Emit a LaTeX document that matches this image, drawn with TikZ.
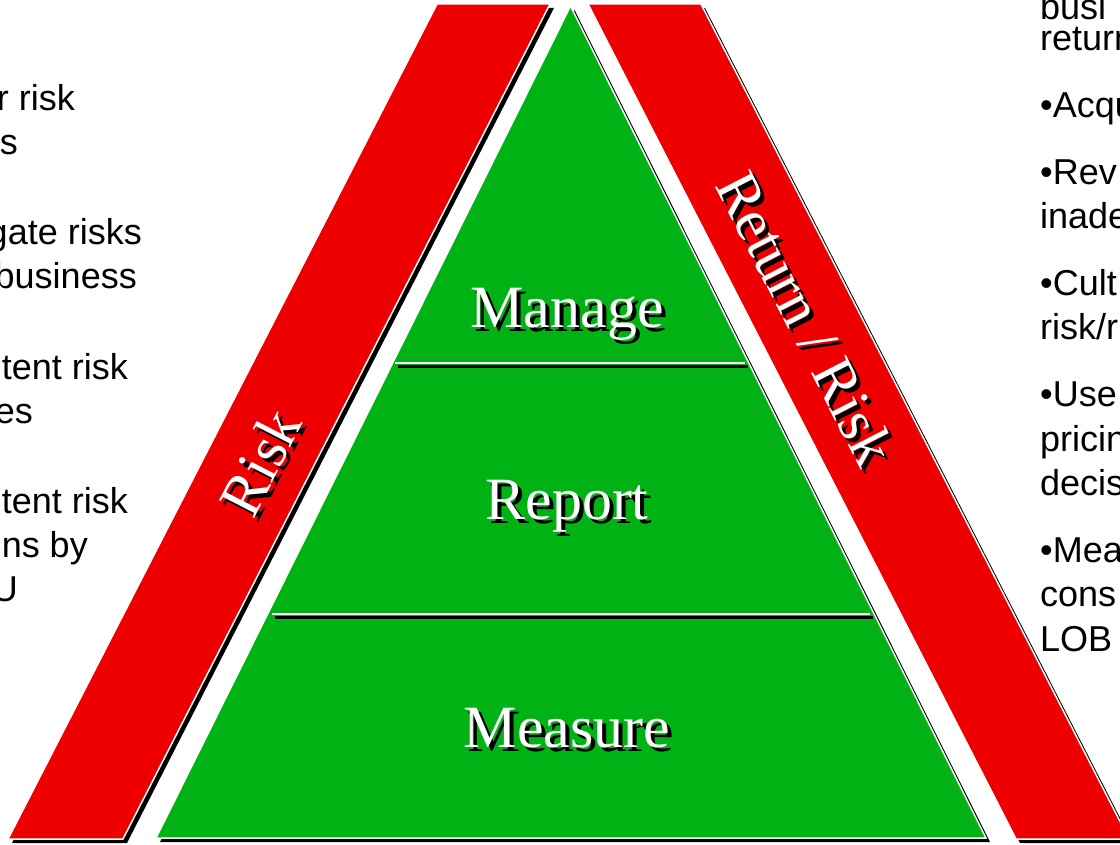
\documentclass[tikz,border=0pt]{standalone}
\usepackage{fontspec}
\setmainfont{Liberation Serif}
\newfontfamily\listfont{Liberation Sans}
\usetikzlibrary{positioning,shadows}
\definecolor{bandred}{RGB}{238,0,0}
\definecolor{tiergreen}{RGB}{0,178,20}
\tikzset {
    band/.style={
        fill=bandred,
        draw=white,
        line width=1.5pt,
        drop shadow={shadow xshift=4pt, shadow yshift=-4pt, fill=black, opacity=1},
    },
    pyramid/.style={
        fill=tiergreen,
        draw=white,
        line width=1.5pt,
        drop shadow={shadow xshift=4pt, shadow yshift=-4pt, fill=black, opacity=1},
    },
    divider/.style={
        draw=white,
        line width=2.5pt,
    },
    divider shadow/.style={
        draw=black,
        line width=3pt,
    },
    tier label/.style={
        text=white,
        inner sep=0pt,
        font=\fontsize{60}{72}\selectfont,
    },
    tier shadow/.style={
        tier label,
        text=black,
    },
    list left/.style={
        inner sep=0pt,
        anchor=base east,
        font=\listfont\fontsize{36}{44}\selectfont,
    },
    list right/.style={
        inner sep=0pt,
        anchor=base west,
        font=\listfont\fontsize{36}{44}\selectfont,
    },
}

\begin{document}
\begin{tikzpicture}[x=1pt, y=-1pt]
\useasboundingbox (0,0) rectangle (1120,845);

% the two slanted bands
\fill[band] (437,4) -- (550,4) -- (123,839) -- (8,839) -- cycle;
\fill[band] (588,4) -- (701,4) -- (1129,839) -- (1016,839) -- cycle;

% pyramid and its tiers
\fill[pyramid] (570.5,6) -- (986,838) -- (156,838) -- cycle;
\coordinate (tierA west) at (395,363);
\coordinate (tierA east) at (745,363);
\coordinate (tierB west) at (272,614);
\coordinate (tierB east) at (870,614);
\draw[divider shadow] ([xshift=3pt,yshift=-3pt]tierA west) -- ([xshift=3pt,yshift=-3pt]tierA east);
\draw[divider] (tierA west) -- (tierA east);
\draw[divider shadow] ([xshift=3pt,yshift=-3pt]tierB west) -- ([xshift=3pt,yshift=-3pt]tierB east);
\draw[divider] (tierB west) -- (tierB east);

\node[tier shadow, anchor=base] at (571,331) (manage shadow) {Manage};
\node[tier label, anchor=base] at (567,327) (manage) {Manage};
\node[tier shadow, anchor=base] at (571,523) (report shadow) {Report};
\node[tier label, anchor=base] at (567,519) (report) {Report};
\node[tier shadow, anchor=base] at (571,751) (measure shadow) {Measure};
\node[tier label, anchor=base] at (567,747) (measure) {Measure};

% band titles
\node[tier shadow, rotate=62.8] at (264,466) (risk shadow) {Risk};
\node[tier label, rotate=62.8] at (260,462) (risk) {Risk};
\node[tier shadow, rotate=-62.8] at (810,322) (return shadow) {Return / Risk};
\node[tier label, rotate=-62.8] at (806,318) (return) {Return / Risk};

% left list
\node[list left] at (75,111) (l1) {r risk};
\node[list left] at (18,155) (l2) {s};
\node[list left] at (142,245) (l3) {gate risks};
\node[list left] at (137,289) (l4) {business};
\node[list left] at (128,379) (l5) {tent risk};
\node[list left] at (33,423) (l6) {es};
\node[list left] at (128,513) (l7) {tent risk};
\node[list left] at (88,557) (l8) {ns by};
\node[list left] at (18,601) (l9) {U};

% right list
\node[list right] at (1040,20) (r1) {busi};
\node[list right] at (1040,51) (r2) {return};
\node[list right] at (1040,118) (r3) {\textbullet Acqu};
\node[list right] at (1040,184.5) (r4) {\textbullet Rev};
\node[list right] at (1040,229) (r5) {inade};
\node[list right] at (1040,295.5) (r6) {\textbullet Cult};
\node[list right] at (1040,340) (r7) {risk/r};
\node[list right] at (1040,406.5) (r8) {\textbullet Use};
\node[list right] at (1040,451) (r9) {pricin};
\node[list right] at (1040,495.5) (r10) {decis};
\node[list right] at (1040,562) (r11) {\textbullet Mea};
\node[list right] at (1040,606.5) (r12) {cons};
\node[list right] at (1040,651) (r13) {LOB};
\end{tikzpicture}
\end{document}
